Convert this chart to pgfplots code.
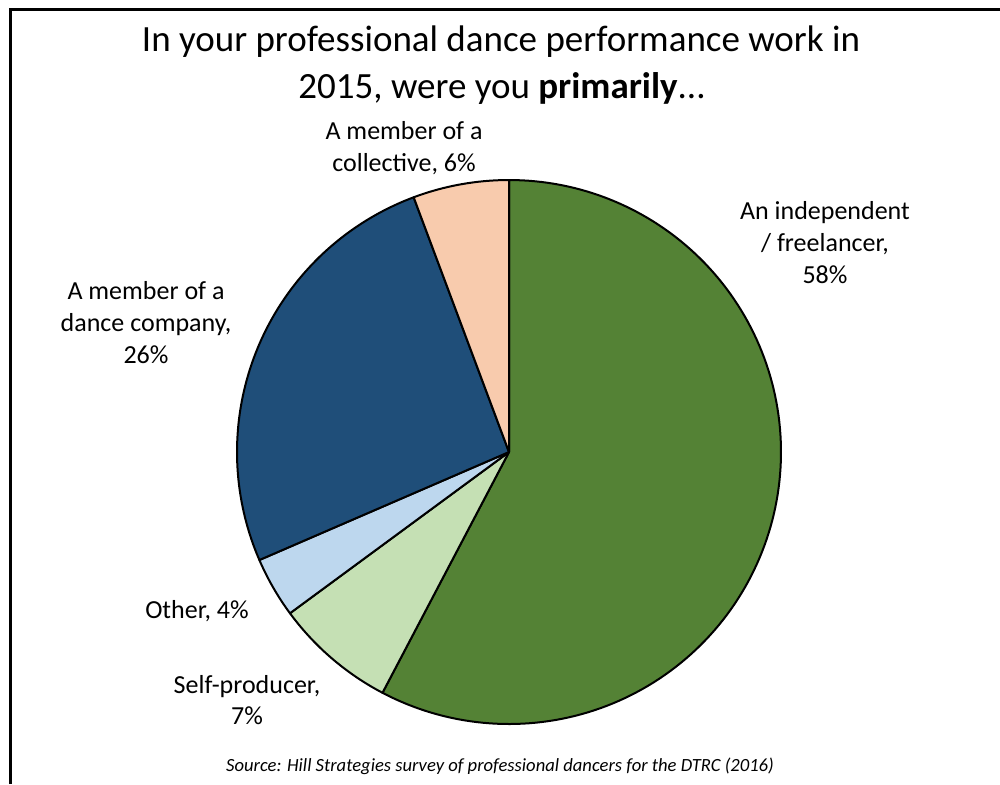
\documentclass[border=0pt]{standalone}
\usepackage{pgfplots}
\pgfplotsset{compat=1.18}
\usepackage{pgfplotstable}
\usepackage{fontspec}
\setmainfont{Carlito}
\definecolor{cIndep}{HTML}{548235}
\definecolor{cSelf}{HTML}{C5E0B4}
\definecolor{cOther}{HTML}{BDD7EE}
\definecolor{cComp}{HTML}{1F4E79}
\definecolor{cColl}{HTML}{F8CBAD}
\pgfplotstableread{
label value
Independent 57.7
Self 7.2
Other 3.6
Company 25.8
Collective 5.7
}\piedata
\pgfplotstablegetelem{0}{value}\of\piedata\edef\vA{\pgfplotsretval}
\pgfplotstablegetelem{1}{value}\of\piedata\edef\vB{\pgfplotsretval}
\pgfplotstablegetelem{2}{value}\of\piedata\edef\vC{\pgfplotsretval}
\pgfplotstablegetelem{3}{value}\of\piedata\edef\vD{\pgfplotsretval}
\pgfplotstablegetelem{4}{value}\of\piedata\edef\vE{\pgfplotsretval}
\pgfmathsetmacro\aA{90}
\pgfmathsetmacro\aB{\aA-3.6*\vA}
\pgfmathsetmacro\aC{\aB-3.6*\vB}
\pgfmathsetmacro\aD{\aC-3.6*\vC}
\pgfmathsetmacro\aE{\aD-3.6*\vD}
\pgfmathsetmacro\aF{\aE-3.6*\vE}
\begin{document}%
\begin{tikzpicture}
\begin{axis}[at={(0,0)}, anchor=south west, x=0.5pt, y=0.5pt,
  xmin=0, xmax=1000, ymin=0, ymax=784, y dir=reverse,
  hide axis, clip=false, scale only axis]
\addplot[fill=cIndep, draw=black, line width=1pt, line join=round, domain=\aB:\aA, samples=150, variable=\t] ({509+272*cos(\t)},{452-272*sin(\t)}) -- (axis cs:509,452) -- cycle;
\addplot[fill=cSelf, draw=black, line width=1pt, line join=round, domain=\aC:\aB, samples=30, variable=\t] ({509+272*cos(\t)},{452-272*sin(\t)}) -- (axis cs:509,452) -- cycle;
\addplot[fill=cOther, draw=black, line width=1pt, line join=round, domain=\aD:\aC, samples=20, variable=\t] ({509+272*cos(\t)},{452-272*sin(\t)}) -- (axis cs:509,452) -- cycle;
\addplot[fill=cComp, draw=black, line width=1pt, line join=round, domain=\aE:\aD, samples=80, variable=\t] ({509+272*cos(\t)},{452-272*sin(\t)}) -- (axis cs:509,452) -- cycle;
\addplot[fill=cColl, draw=black, line width=1pt, line join=round, domain=\aF:\aE, samples=20, variable=\t] ({509+272*cos(\t)},{452-272*sin(\t)}) -- (axis cs:509,452) -- cycle;
% frame
\draw[line width=1.5pt] (axis cs:10,784) |- (axis cs:1000,9);
% title
\node[anchor=base, font=\fontsize{18.5}{22}\selectfont] at (axis cs:501,51) {In your professional dance performance work in};
\node[anchor=base, font=\fontsize{18.5}{22}\selectfont] at (axis cs:502,98) {2015, were you \textbf{primarily}...};
% labels
\tikzset{lab/.style={anchor=base, font=\fontsize{13}{16}\selectfont}}
\node[lab] at (axis cs:404,139) {A member of a};
\node[lab] at (axis cs:404,171) {collective, 6\%};
\node[lab] at (axis cs:825,219) {An independent};
\node[lab] at (axis cs:825,251) {/ freelancer,};
\node[lab] at (axis cs:825,283) {58\%};
\node[lab] at (axis cs:146,299) {A member of a};
\node[lab] at (axis cs:146,331) {dance company,};
\node[lab] at (axis cs:146,363) {26\%};
\node[lab] at (axis cs:197,618) {Other, 4\%};
\node[lab] at (axis cs:247,693) {Self-producer,};
\node[lab] at (axis cs:247,724) {7\%};
\node[anchor=base, font=\fontsize{9.3}{11}\selectfont\itshape] at (axis cs:500,771) {Source: Hill Strategies survey of professional dancers for the DTRC (2016)};
\coordinate (bl) at (axis cs:0,784);
\coordinate (tr) at (axis cs:1000,0);
\end{axis}
\pgfresetboundingbox
\path[use as bounding box] (bl) rectangle (tr);
\end{tikzpicture}%
\end{document}
